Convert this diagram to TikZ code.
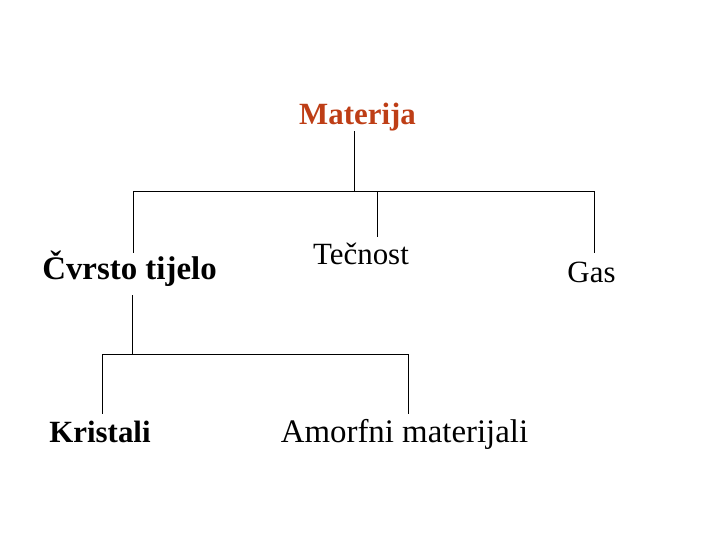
\documentclass[tikz,border=0pt]{standalone}
\usepackage{fontspec}
\setmainfont{Liberation Serif}
\definecolor{matred}{RGB}{190,62,22}
\begin{document}
\begin{tikzpicture}[x=1bp,y=-1bp,
  lbl/.style={inner sep=0pt,anchor=base,font=\fontsize{31}{37}\selectfont},
  blbl/.style={lbl,font=\fontsize{31}{37}\selectfont\bfseries},
  conn/.style={line width=1bp,line cap=rect}]
\useasboundingbox (0,0) rectangle (720,540);
\node[blbl,text=matred] (mat) at (357.5,125) {Materija};
\node[blbl,font=\fontsize{33}{39}\selectfont\bfseries] (cvr) at (129.5,280) {Čvrsto tijelo};
\node[lbl] (tec) at (361,265) {Tečnost};
\node[lbl] (gas) at (591.5,283) {Gas};
\node[blbl] (kri) at (100,442) {Kristali};
\node[lbl,font=\fontsize{33}{39}\selectfont] (amo) at (404.5,442) {Amorfni materijali};
% junctions
\coordinate (j1) at (354,192);
\coordinate (jl) at (133,192);
\coordinate (jm) at (377,192);
\coordinate (jr) at (594,192);
\coordinate (j2) at (132,354);
\coordinate (kl) at (102,354);
\coordinate (kr) at (408,354);
% connectors
\draw[conn] (j1 |- 0,132) -- (j1);
\draw[conn] (jl) -- (jr);
\draw[conn] (jl) -- (jl |- 0,253);
\draw[conn] (jm) -- (jm |- 0,237);
\draw[conn] (jr) -- (jr |- 0,253);
\draw[conn] (j2 |- 0,295) -- (j2);
\draw[conn] (kl) -- (kr);
\draw[conn] (kl) -- (kl |- 0,413);
\draw[conn] (kr) -- (kr |- 0,413);
\end{tikzpicture}
\end{document}
